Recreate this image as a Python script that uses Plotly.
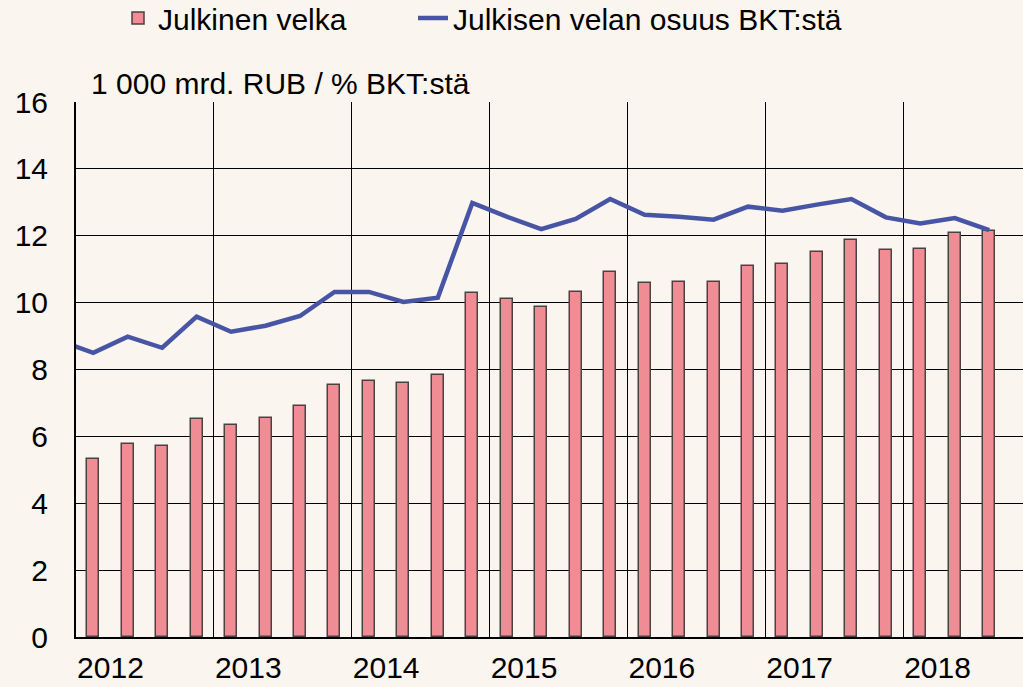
import plotly.graph_objects as go

# Quarterly data
years = [2012, 2013, 2014, 2015, 2016, 2017, 2018]
bar_years = [2012]*4 + [2013]*4 + [2014]*4 + [2015]*4 + [2016]*4 + [2017]*4 + [2018]*3
bar_quarters = [1, 2, 3, 4]*6 + [1, 2, 3]
debt = [5.31, 5.77, 5.72, 6.51,
        6.34, 6.55, 6.90, 7.55,
        7.65, 7.60, 7.83, 10.28,
        10.10, 9.87, 10.31, 10.93,
        10.60, 10.63, 10.63, 11.10,
        11.15, 11.50, 11.86, 11.56,
        11.61, 12.07, 12.13]

line_years = [2011] + bar_years
line_quarters = [4] + bar_quarters
debt_gdp = [8.87,
            8.50, 8.98, 8.65, 9.58,
            9.13, 9.31, 9.60, 10.32,
            10.32, 10.02, 10.15, 12.98,
            12.57, 12.20, 12.50, 13.10,
            12.63, 12.57, 12.48, 12.87,
            12.75, 12.93, 13.10, 12.55,
            12.37, 12.53, 12.17]

y_ticks = [0, 2, 4, 6, 8, 10, 12, 14, 16]
unit_label = "1 000 mrd. RUB / % BKT:stä"
name_bar = "Julkinen velka"
name_line = "Julkisen velan osuus BKT:stä"

BASE = 2012


def qpos(y, q):
    return (y - BASE) * 4 + (q - 1) + 0.5


bar_x = [qpos(y, q) for y, q in zip(bar_years, bar_quarters)]
line_x = [qpos(y, q) for y, q in zip(line_years, line_quarters)]

FONT = "Liberation Sans, Arial, sans-serif"
BG = "#faf5ef"
W, H = 1023, 687

fig = go.Figure()
fig.add_trace(go.Bar(
    x=bar_x, y=debt, name=name_bar, width=0.35,
    marker=dict(color="#f08c94", line=dict(color="#4a4242", width=1.5)),
    legend="legend",
))
fig.add_trace(go.Scatter(
    x=line_x, y=debt_gdp, name=name_line, mode="lines",
    line=dict(color="#4855a5", width=4.5),
    legend="legend2",
))

leg_common = dict(orientation="h", xref="container", yref="container",
                  xanchor="left", yanchor="middle", y=(H - 18) / H,
                  bgcolor="rgba(0,0,0,0)", font=dict(size=30))

fig.update_layout(
    width=W, height=H,
    margin=dict(l=76, r=0, t=102, b=50, autoexpand=False),
    paper_bgcolor=BG, plot_bgcolor=BG,
    font=dict(family=FONT, size=30, color="black"),
    showlegend=True,
    legend=dict(x=118 / W, **leg_common),
    legend2=dict(x=413 / W, **leg_common),
    bargap=0,
)

fig.update_xaxes(
    range=[0, 27.48],
    tickvals=[(y - BASE) * 4 + 1 for y in years],
    ticktext=[str(y) for y in years],
    showgrid=False, showline=True, linecolor="black", linewidth=2,
    ticks="", ticklabelstandoff=3, automargin=False,
    minor=dict(tickvals=[(y - BASE) * 4 for y in years], showgrid=True,
               gridcolor="black", gridwidth=1, ticks=""),
    zeroline=False,
)
fig.update_yaxes(
    range=[0, 16], tickvals=y_ticks,
    showgrid=True, gridcolor="black", gridwidth=1,
    showline=True, linecolor="black", linewidth=2,
    ticks="", ticklabelstandoff=20, zeroline=False, automargin=False,
)

fig.add_annotation(
    text=unit_label, xref="paper", yref="paper", x=0.0137, y=1.0,
    xanchor="left", yanchor="bottom", showarrow=False,
    font=dict(size=30),
)

fig.write_html("out.html", config={"displayModeBar": False},
               post_script="document.body.style.margin='0';")
